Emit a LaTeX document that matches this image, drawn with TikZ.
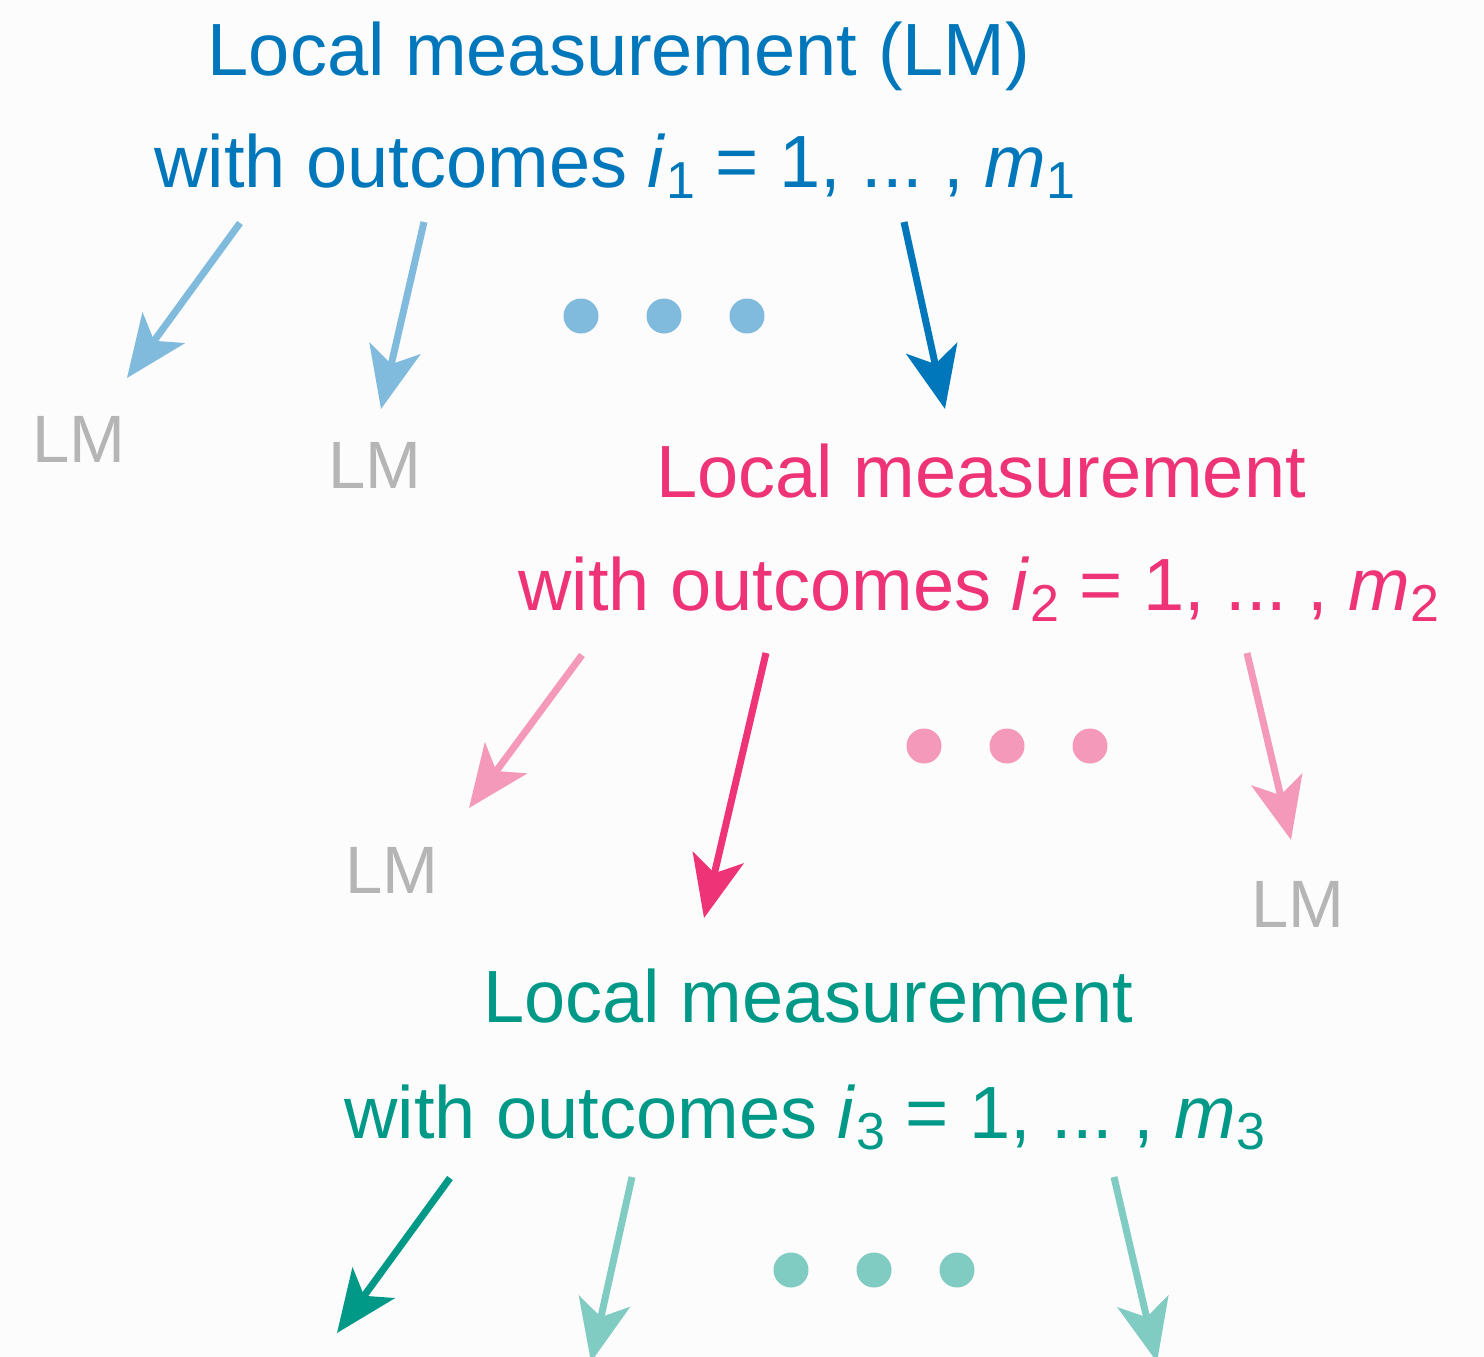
\documentclass[tikz,border=0pt]{standalone}
\usepackage{fontspec}
\setmainfont{Liberation Sans}
\usetikzlibrary{arrows.meta}
\frenchspacing

\definecolor{cblue}{HTML}{0077BB}
\definecolor{cbluel}{HTML}{80BBDD}
\definecolor{cpink}{HTML}{EE3377}
\definecolor{cpinkl}{HTML}{F599BB}
\definecolor{cteal}{HTML}{009988}
\definecolor{ctealt}{HTML}{80CCC3}
\definecolor{cgrey}{HTML}{B5B5B5}
\definecolor{paper}{HTML}{FCFCFC}

% subscript index for the outcome labels
\newcommand{\idx}[1]{\raisebox{-11pt}{\fontsize{52}{52}\selectfont #1}}

\tikzset{
  x=1pt, y=-1pt,
  heading/.style={anchor=base, inner sep=0pt, font=\fontsize{74}{74}\selectfont},
  lmlabel/.style={anchor=base, inner sep=0pt, text=cgrey, font=\fontsize{67}{67}\selectfont},
  branch/.style={line width=7pt, -{Stealth[length=62pt, width=52pt, inset=16pt]}},
  dot/.style={circle, inner sep=0pt, minimum size=35pt},
}

\begin{document}
\begin{tikzpicture}
  \fill[paper] (0,0) rectangle (1484,1357);
  \useasboundingbox (0,0) rectangle (1484,1357);

  % ---- first measurement ----
  \node[heading, text=cblue] (t1a) at (619,75) {Local measurement (LM)};
  \node[heading, text=cblue] (t1b) at (615,187)
    {with outcomes \textit{i}\idx{1} = 1, ... , \textit{m}\idx{1}};

  \coordinate (a1s) at (240,223);  \coordinate (a1e) at (127,378);
  \coordinate (a2s) at (424,222);  \coordinate (a2e) at (381,409);
  \coordinate (a3s) at (904,222);  \coordinate (a3e) at (945,409);
  \draw[branch, cbluel] (a1s) -- (a1e);
  \draw[branch, cbluel] (a2s) -- (a2e);
  \draw[branch, cblue]  (a3s) -- (a3e);
  \node[dot, fill=cbluel] (d11) at (581,316) {};
  \node[dot, fill=cbluel] (d12) at (664,316) {};
  \node[dot, fill=cbluel] (d13) at (747,316) {};
  \node[lmlabel] (lm1) at (79,462) {LM};
  \node[lmlabel] (lm2) at (375,488) {LM};

  % ---- second measurement ----
  \node[heading, text=cpink] (t2a) at (981,497) {Local measurement};
  \node[heading, text=cpink] (t2b) at (979,610)
    {with outcomes \textit{i}\idx{2} = 1, ... , \textit{m}\idx{2}};

  \coordinate (b1s) at (582,655);  \coordinate (b1e) at (469,808);
  \coordinate (b2s) at (766,653);  \coordinate (b2e) at (704,918);
  \coordinate (b3s) at (1247,653); \coordinate (b3e) at (1291,840);
  \draw[branch, cpinkl] (b1s) -- (b1e);
  \draw[branch, cpink]  (b2s) -- (b2e);
  \draw[branch, cpinkl] (b3s) -- (b3e);
  \node[dot, fill=cpinkl] (d21) at (924,746) {};
  \node[dot, fill=cpinkl] (d22) at (1007,746) {};
  \node[dot, fill=cpinkl] (d23) at (1090,746) {};
  \node[lmlabel] (lm3) at (392,893) {LM};
  \node[lmlabel] (lm4) at (1298,927) {LM};

  % ---- third measurement ----
  \node[heading, text=cteal] (t3a) at (808,1022) {Local measurement};
  \node[heading, text=cteal] (t3b) at (805,1138)
    {with outcomes \textit{i}\idx{3} = 1, ... , \textit{m}\idx{3}};

  \coordinate (c1s) at (450,1178);  \coordinate (c1e) at (337,1333);
  \coordinate (c2s) at (632,1177);  \coordinate (c2e) at (591,1362);
  \coordinate (c3s) at (1114,1177); \coordinate (c3e) at (1157,1362);
  \draw[branch, cteal]  (c1s) -- (c1e);
  \draw[branch, ctealt] (c2s) -- (c2e);
  \draw[branch, ctealt] (c3s) -- (c3e);
  \node[dot, fill=ctealt] (d31) at (791,1270) {};
  \node[dot, fill=ctealt] (d32) at (874,1270) {};
  \node[dot, fill=ctealt] (d33) at (957,1270) {};
\end{tikzpicture}
\end{document}
